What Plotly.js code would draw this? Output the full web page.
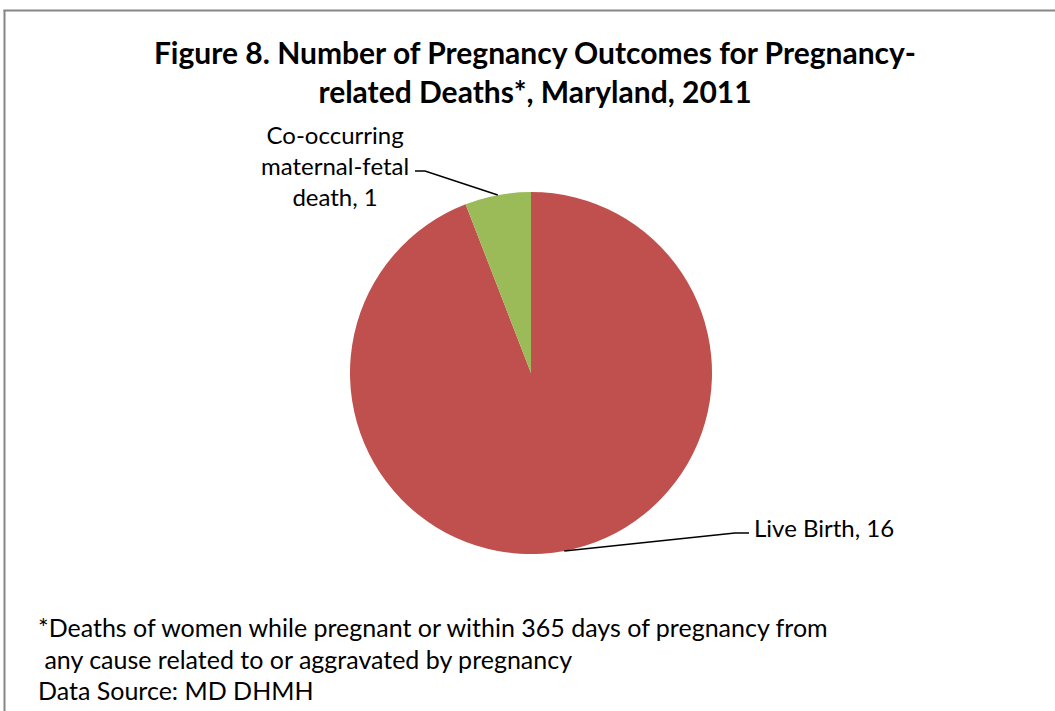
<!DOCTYPE html>
<html>
<head>
<meta charset="utf-8">
<script src="https://cdn.plot.ly/plotly-3.0.1.min.js"></script>
<style>html,body{margin:0;padding:0;background:#fff;}#chart{width:1055px;height:711px;}</style>
</head>
<body>
<div id="chart"></div>
<script>
// ---- data ----
const categories = ["Live Birth", "Co-occurring maternal-fetal death"];
const labelTexts = ["Live Birth, 16", "Co-occurring<br>maternal-fetal<br>death, 1"];
const values = [16, 1];
const colors = ["#C0504D", "#9BBB59"];
const titleText = "Figure 8. Number of Pregnancy Outcomes for Pregnancy-<br>related Deaths*, Maryland, 2011";
const footnoteLines = ["*Deaths of women while pregnant or within 365 days of pregnancy from",
                       "\u00A0any cause related to or aggravated by pregnancy",
                       "Data Source: MD DHMH"];

// ---- layout geometry ----
const W = 1055, H = 711;
const cx = 531, cy = 373, R = 181;
const FONT = "Lato, 'Open Sans', sans-serif";
const px = x => x / W, py = y => 1 - y / H;

// leader lines computed from the slice mid-angles (clockwise from 12 o'clock)
const total = values.reduce((a, b) => a + b, 0);
let cum = 0;
const mids = values.map(v => { const m = (cum + v / 2) / total * 2 * Math.PI; cum += v; return m; });
const edge = mids.map(a => [cx + R * Math.sin(a), cy - R * Math.cos(a)]);

// label text anchor offsets (layout only)
const labelCfg = [
  {elbow: [735, 533], end: [749, 533], tx: 752, ty: 527, xanchor: "left"},
  {elbow: [425, 171], end: [415, 171], tx: 411, ty: 165, xanchor: "right"}
];

const shapes = [
  {type: "line", xref: "paper", yref: "paper", x0: px(4.5), x1: px(4.5), y0: py(10), y1: py(711), line: {color: "#868686", width: 2}},
  {type: "line", xref: "paper", yref: "paper", x0: px(3.5), x1: px(1055), y0: py(10.5), y1: py(10.5), line: {color: "#868686", width: 2}}
];
const annotations = [];
edge.forEach((p, i) => {
  const c = labelCfg[i];
  shapes.push({type: "path", xref: "paper", yref: "paper",
    path: `M ${px(p[0])} ${py(p[1])} L ${px(c.elbow[0])} ${py(c.elbow[1])} L ${px(c.end[0])} ${py(c.end[1])}`,
    line: {color: "#000", width: 1.5}});
  annotations.push({xref: "paper", yref: "paper", x: px(c.tx), y: py(c.ty), xanchor: c.xanchor, yanchor: "middle",
    text: labelTexts[i], showarrow: false, align: "center", font: {family: FONT, size: 24, color: "#000"}});
});
footnoteLines.forEach((t, i) => {
  annotations.push({xref: "paper", yref: "paper", x: px(36), y: py(627 + i * 31.5), xanchor: "left", yanchor: "middle",
    text: t, showarrow: false, align: "left", font: {family: FONT, size: 25, color: "#000"}});
});

const trace = {
  type: "pie",
  labels: categories,
  values: values,
  marker: {colors: colors, line: {width: 0}},
  sort: false,
  direction: "clockwise",
  rotation: 0,
  textinfo: "none",
  hoverinfo: "label+value",
  domain: {x: [px(cx - R), px(cx + R)], y: [py(cy + R), py(cy - R)]},
  showlegend: false
};

const layout = {
  width: W, height: H,
  margin: {l: 0, r: 0, t: 0, b: 0},
  paper_bgcolor: "#fff",
  title: {text: titleText, x: px(535), xanchor: "center", y: py(64), yanchor: "middle",
          font: {family: FONT, size: 30, color: "#000", weight: "bold"}},
  showlegend: false,
  shapes: shapes,
  annotations: annotations
};

Plotly.newPlot("chart", [trace], layout, {displayModeBar: false, staticPlot: true});
</script>
</body>
</html>
